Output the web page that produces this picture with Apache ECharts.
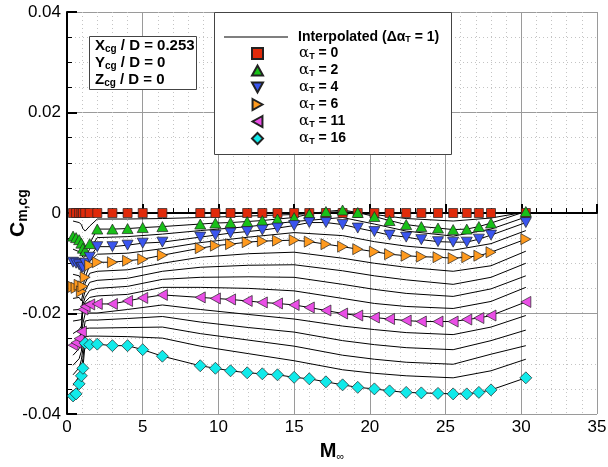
<!DOCTYPE html>
<html>
<head>
<meta charset="utf-8">
<script src="https://cdn.jsdelivr.net/npm/echarts@6/dist/echarts.min.js"></script>
<style>
html,body{margin:0;padding:0;background:#fff}
#chart{width:608px;height:467px}
</style>
</head>
<body>
<div id="chart"></div>
<script>
// Mach numbers of the database points
var mach = [0.4, 0.6, 0.8, 0.95, 1.05, 1.2, 1.5, 2, 3, 4, 5, 6.3, 8.8, 9.8, 10.8, 11.9, 12.9, 13.9, 15,
	16, 17.1, 18.2, 19.2, 20.3, 21.3, 22.4, 23.4, 24.5, 25.5, 26.4, 27.2, 28, 30.3];

// Cm,cg at the database angles (markers)
var cmA0 = [0, 0, 0, 0, 0, 0, 0, 0, 0, 0, 0, 0, 0, 0, 0, 0, 0, 0, 0,
	0, 0, 0, 0, 0, 0, 0, 0, 0, 0, 0, 0, 0, 0];
var cmA2 = [-0.0046, -0.0049, -0.0053, -0.0060, -0.0070, -0.0075, -0.0061, -0.0032, -0.0032, -0.0031, -0.0029, -0.0027, -0.0022, -0.0020, -0.0019, -0.0017, -0.0015, -0.0012, -0.0009,
	-0.0002, 0.0003, 0.0006, 0.0001, -0.0007, -0.0015, -0.0023, -0.0027, -0.0030, -0.0033, -0.0032, -0.0027, -0.0020, 0.0003];
var cmA4 = [-0.0098, -0.0100, -0.0103, -0.0108, -0.0108, -0.0100, -0.0088, -0.0067, -0.0067, -0.0064, -0.0060, -0.0058, -0.0048, -0.0044, -0.0040, -0.0037, -0.0034, -0.0030, -0.0025,
	-0.0019, -0.0019, -0.0023, -0.0030, -0.0037, -0.0044, -0.0048, -0.0053, -0.0057, -0.0058, -0.0058, -0.0052, -0.0044, -0.0019];
var cmA6 = [-0.0147, -0.0149, -0.0143, -0.0156, -0.0146, -0.0128, -0.0104, -0.0098, -0.0098, -0.0095, -0.0092, -0.0084, -0.0070, -0.0065, -0.0062, -0.0058, -0.0056, -0.0055, -0.0054,
	-0.0057, -0.0062, -0.0067, -0.0072, -0.0077, -0.0082, -0.0085, -0.0087, -0.0088, -0.0090, -0.0088, -0.0085, -0.0078, -0.0052];
var cmA11 = [-0.0263, -0.0258, -0.0250, -0.0236, -0.0192, -0.0186, -0.0182, -0.0181, -0.0181, -0.0175, -0.0169, -0.0163, -0.0168, -0.0170, -0.0172, -0.0175, -0.0178, -0.0180, -0.0183,
	-0.0188, -0.0194, -0.0200, -0.0204, -0.0208, -0.0211, -0.0214, -0.0216, -0.0216, -0.0216, -0.0212, -0.0209, -0.0204, -0.0177];
var cmA16 = [-0.0364, -0.0360, -0.0340, -0.0324, -0.0309, -0.0259, -0.0262, -0.0261, -0.0264, -0.0264, -0.0272, -0.0285, -0.0304, -0.0309, -0.0314, -0.0318, -0.0320, -0.0322, -0.0327,
	-0.0330, -0.0336, -0.0342, -0.0347, -0.0350, -0.0354, -0.0357, -0.0358, -0.0359, -0.0360, -0.0360, -0.0357, -0.0352, -0.0328];

// interpolated curves (delta alpha = 1), read at fewer Mach numbers
var lineMach = [0.4, 0.8, 0.95, 1.05, 1.2, 1.5, 2, 4, 6.3, 8.8, 12, 15, 18.2, 20.3, 22.4, 25.5, 28, 30.3];
var cmA1 = [-0.0016, -0.0019, -0.0023, -0.0031, -0.0036, -0.0026, -0.0012, -0.0012, -0.0011, -0.0009, -0.0006, -0.0003, 0.0003, -0.0003, -0.0011, -0.0016, -0.0010, 0.0002];
var cmA3 = [-0.0072, -0.0077, -0.0083, -0.0088, -0.0087, -0.0072, -0.0049, -0.0047, -0.0042, -0.0035, -0.0027, -0.0017, -0.0009, -0.0022, -0.0036, -0.0046, -0.0032, -0.0008];
var cmA5 = [-0.0122, -0.0125, -0.0132, -0.0128, -0.0114, -0.0096, -0.0082, -0.0080, -0.0071, -0.0059, -0.0048, -0.0039, -0.0045, -0.0057, -0.0066, -0.0074, -0.0061, -0.0035];
var cmA7 = [-0.0170, -0.0168, -0.0175, -0.0160, -0.0140, -0.0120, -0.0116, -0.0113, -0.0100, -0.0088, -0.0081, -0.0078, -0.0090, -0.0100, -0.0108, -0.0116, -0.0105, -0.0076];
var cmA8 = [-0.0193, -0.0192, -0.0195, -0.0172, -0.0155, -0.0138, -0.0134, -0.0130, -0.0116, -0.0108, -0.0104, -0.0103, -0.0115, -0.0125, -0.0133, -0.0142, -0.0128, -0.0100];
var cmA9 = [-0.0215, -0.0213, -0.0212, -0.0182, -0.0168, -0.0154, -0.0150, -0.0146, -0.0132, -0.0128, -0.0127, -0.0128, -0.0142, -0.0152, -0.0160, -0.0166, -0.0151, -0.0125];
var cmA10 = [-0.0240, -0.0232, -0.0225, -0.0188, -0.0177, -0.0168, -0.0165, -0.0162, -0.0148, -0.0148, -0.0150, -0.0155, -0.0170, -0.0180, -0.0186, -0.0190, -0.0176, -0.0148];
var cmA12 = [-0.0283, -0.0270, -0.0258, -0.0220, -0.0200, -0.0199, -0.0199, -0.0192, -0.0183, -0.0192, -0.0202, -0.0211, -0.0225, -0.0232, -0.0238, -0.0242, -0.0227, -0.0204];
var cmA13 = [-0.0303, -0.0290, -0.0275, -0.0245, -0.0215, -0.0213, -0.0213, -0.0210, -0.0206, -0.0217, -0.0228, -0.0237, -0.0254, -0.0262, -0.0268, -0.0272, -0.0254, -0.0233];
var cmA14 = [-0.0322, -0.0308, -0.0292, -0.0270, -0.0230, -0.0229, -0.0229, -0.0228, -0.0227, -0.0240, -0.0253, -0.0265, -0.0283, -0.0291, -0.0297, -0.0301, -0.0281, -0.0264];
var cmA15 = [-0.0343, -0.0325, -0.0308, -0.0290, -0.0246, -0.0245, -0.0245, -0.0246, -0.0249, -0.0265, -0.0280, -0.0294, -0.0312, -0.0319, -0.0324, -0.0328, -0.0314, -0.0291];

var yTicks = [-0.04, -0.02, 0, 0.02, 0.04];

var FONT = 'Liberation Sans, Arial, sans-serif';

function pairs(xs, ys) {
	return xs.map(function (x, i) { return [x, ys[i]]; });
}

// all 17 black curves, alpha 0..16
var curves = [
	[mach, cmA0], [lineMach, cmA1], [mach, cmA2], [lineMach, cmA3], [mach, cmA4], [lineMach, cmA5],
	[mach, cmA6], [lineMach, cmA7], [lineMach, cmA8], [lineMach, cmA9], [lineMach, cmA10], [mach, cmA11],
	[lineMach, cmA12], [lineMach, cmA13], [lineMach, cmA14], [lineMach, cmA15], [mach, cmA16]
];

// triangles as paths so the legend shows them the same way round
var markers = [
	{name: 'a0', data: cmA0, symbol: 'rect', color: '#e02a0a', size: 9},
	{name: 'a2', data: cmA2, symbol: 'path://M5,0L10,9L0,9Z', color: '#18c018', size: [11, 10]},
	{name: 'a4', data: cmA4, symbol: 'path://M0,0L10,0L5,9Z', color: '#3a55ee', size: [11, 10]},
	{name: 'a6', data: cmA6, symbol: 'path://M0,0L9,5L0,10Z', color: '#ff9a1e', size: [10, 11]},
	{name: 'a11', data: cmA11, symbol: 'path://M9,0L0,5L9,10Z', color: '#ea4ee6', size: [10, 11]},
	{name: 'a16', data: cmA16, symbol: 'diamond', color: '#10eaea', size: 12}
];

var series = [];
curves.forEach(function (c) {
	series.push({
		name: 'Interpolated',
		type: 'line',
		data: pairs(c[0], c[1]),
		symbol: 'none',
		color: '#000',
		lineStyle: {color: '#000', width: 1},
		silent: true,
		z: 2
	});
});
markers.forEach(function (m) {
	series.push({
		name: m.name,
		type: 'scatter',
		data: pairs(mach, m.data),
		symbol: m.symbol,
		symbolSize: m.size,
		itemStyle: {color: m.color, borderColor: '#222', borderWidth: 0.7, opacity: 1},
		z: 3
	});
});

var legendText = {
	'Interpolated': '{b|Interpolated (Δα}{s|T}{b| = 1)}',
	'a0': '{a|α}{s|T}{b| = 0}',
	'a2': '{a|α}{s|T}{b| = 2}',
	'a4': '{a|α}{s|T}{b| = 4}',
	'a6': '{a|α}{s|T}{b| = 6}',
	'a11': '{a|α}{s|T}{b| = 11}',
	'a16': '{a|α}{s|T}{b| = 16}'
};
var legendRich = {
	b: {fontSize: 14, fontWeight: 'bold', fontFamily: FONT, color: '#000'},
	a: {fontSize: 15, fontFamily: 'DejaVu Serif', color: '#000'},
	s: {fontSize: 9, fontWeight: 'bold', fontFamily: FONT, color: '#000', padding: [6, 0, 0, 0]}
};

var chart = echarts.init(document.getElementById('chart'));
chart.setOption({
	animation: false,
	textStyle: {fontFamily: FONT},
	grid: {left: 67, right: 11, top: 12, bottom: 53, containLabel: false, outerBoundsMode: 'none'},
	xAxis: {
		type: 'value', min: 0, max: 35, interval: 5,
		name: '{m|M}{s|∞}', nameLocation: 'middle', nameGap: 27, nameMoveOverlap: false,
		nameTextStyle: {
			rich: {
				m: {fontSize: 20, fontWeight: 'bold', fontFamily: FONT, color: '#000'},
				s: {fontSize: 11, fontFamily: FONT, color: '#000', padding: [10, 0, 0, 0]}
			}
		},
		axisLine: {lineStyle: {color: '#000', width: 2}},
		axisTick: {inside: true, length: 9, lineStyle: {color: '#000', width: 2}},
		minorTick: {show: true, splitNumber: 5, length: 5, lineStyle: {color: '#000', width: 1}},
		axisLabel: {fontSize: 17, color: '#000', margin: 5, fontFamily: FONT},
		splitLine: {show: true, lineStyle: {color: '#9a9a9a', width: 1}},
		minorSplitLine: {show: true, lineStyle: {color: '#c4c4c4', width: 1, type: [1, 3]}}
	},
	yAxis: {
		type: 'value', min: -0.04, max: 0.04, interval: 0.02,
		name: '{c|C}{s|m,cg}', nameLocation: 'middle', nameGap: 37, nameMoveOverlap: false,
		nameTextStyle: {
			rich: {
				c: {fontSize: 21, fontWeight: 'bold', fontFamily: FONT, color: '#000'},
				s: {fontSize: 14, fontWeight: 'bold', fontFamily: FONT, color: '#000', padding: [10, 0, 0, 0]}
			}
		},
		axisLine: {lineStyle: {color: '#000', width: 2}},
		axisTick: {inside: true, length: 10, lineStyle: {color: '#000', width: 2}},
		minorTick: {show: true, splitNumber: 4, length: 5, lineStyle: {color: '#000', width: 1}},
		axisLabel: {
			fontSize: 17, color: '#000', margin: 6, fontFamily: FONT,
			formatter: function (v) {
				var t = yTicks.filter(function (k) { return Math.abs(k - v) < 1e-9; })[0];
				return t === 0 ? '0' : t.toFixed(2);
			}
		},
		splitLine: {show: true, lineStyle: {color: '#9a9a9a', width: 1}},
		minorSplitLine: {show: true, lineStyle: {color: '#c4c4c4', width: 1, type: [1, 3]}}
	},
	legend: [
		{
			left: 219, top: 25, z: 6,
			data: [{name: 'Interpolated', icon: 'rect'}],
			itemWidth: 64, itemHeight: 1, itemGap: 0,
			selectedMode: false,
			formatter: function (name) { return legendText[name]; },
			textStyle: {padding: [0, 0, 0, 5], rich: legendRich}
		},
		{
			orient: 'vertical', left: 246, top: 41, z: 6,
			data: ['a0', 'a2', 'a4', 'a6', 'a11', 'a16'],
			itemWidth: 11, itemHeight: 11, itemGap: 2,
			selectedMode: false,
			formatter: function (name) { return legendText[name]; },
			textStyle: {padding: [0, 0, 0, 31], rich: legendRich}
		}
	],
	graphic: [
		{
			type: 'rect', z: 5,
			shape: {x: 214.5, y: 12.5, width: 237, height: 142},
			style: {fill: '#fff', stroke: '#444', lineWidth: 1}
		},
		{
			type: 'rect', z: 5,
			shape: {x: 89.5, y: 36.5, width: 107, height: 53},
			style: {fill: '#fff', stroke: '#444', lineWidth: 1}
		},
		{
			type: 'text', z: 6, left: 95, top: 38,
			style: {
				text: '{b|X}{s|cg}{b| / D = 0.253}\n{b|Y}{s|cg}{b| / D = 0}\n{b|Z}{s|cg}{b| / D = 0}',
				rich: {
					b: {fontSize: 15, fontWeight: 'bold', fontFamily: FONT, fill: '#000', lineHeight: 16},
					s: {fontSize: 10, fontWeight: 'bold', fontFamily: FONT, fill: '#000', padding: [7, 0, 0, 0]}
				}
			}
		}
	],
	series: series
});
</script>
</body>
</html>
